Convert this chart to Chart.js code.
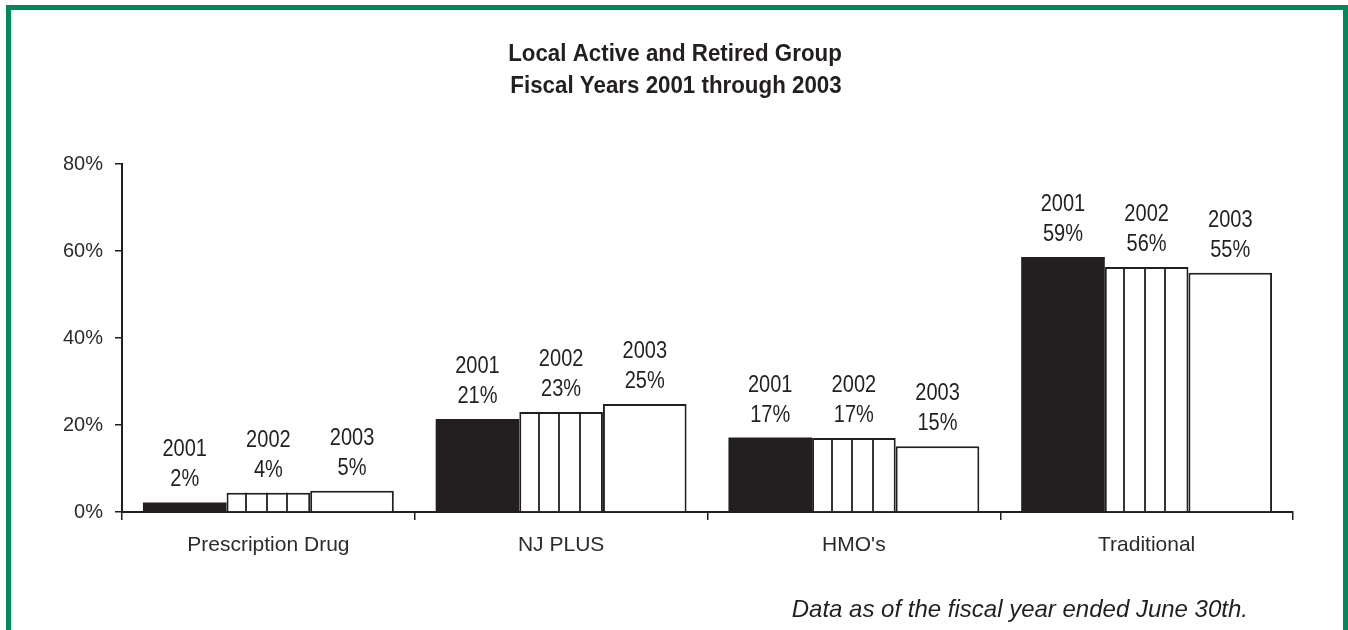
<!DOCTYPE html>
<html>
<head>
<meta charset="utf-8">
<script src="https://cdn.jsdelivr.net/npm/chart.js@4/dist/chart.umd.min.js"></script>
<style>
  html,body{margin:0;padding:0;background:#fff;}
  body{width:1348px;height:630px;position:relative;overflow:hidden;}
  #frame{position:absolute;left:6px;top:5px;width:1342px;height:700px;box-sizing:border-box;border:5px solid #00895a;border-bottom:none;}
  #c{position:absolute;left:0;top:0;}
</style>
</head>
<body>
<div id="frame"></div>
<canvas id="c" width="1348" height="630"></canvas>
<script>
const categories = ["Prescription Drug", "NJ PLUS", "HMO's", "Traditional"];
const years = ["2001", "2002", "2003"];
const values2001 = [2.2, 21.4, 17.1, 58.6];
const values2002 = [4.4, 23.0, 17.0, 56.3];
const values2003 = [4.9, 24.8, 15.1, 55.0];
const yTicks = [0, 20, 40, 60, 80];
const titleLines = ["Local Active and Retired Group", "Fiscal Years 2001 through 2003"];
const footnote = "Data as of the fiscal year ended June 30th.";

const INK = '#231f20';
const SANS = "'Liberation Sans', Arial, sans-serif";

function narrowText(ctx, text, x, y, sx) {
  ctx.save();
  ctx.translate(x, y);
  ctx.scale(sx, 1);
  ctx.fillText(text, 0, 0);
  ctx.restore();
}

const overlay = {
  id: 'overlay',
  afterDatasetsDraw(chart) {
    const ctx = chart.ctx;
    ctx.save();
    // vertical stripes inside 2002 bars
    ctx.strokeStyle = INK;
    ctx.lineWidth = 1.8;
    chart.getDatasetMeta(1).data.forEach(bar => {
      const p = bar.getProps(['x', 'y', 'base', 'width'], true);
      const left = p.x - p.width / 2;
      [0.235, 0.48, 0.725].forEach(f => {
        const lx = Math.round(left + p.width * f);
        ctx.beginPath();
        ctx.moveTo(lx, p.y);
        ctx.lineTo(lx, p.base);
        ctx.stroke();
      });
    });
    // value labels
    ctx.fillStyle = INK;
    ctx.textAlign = 'center';
    ctx.textBaseline = 'alphabetic';
    ctx.font = "23px " + SANS;
    chart.data.datasets.forEach((ds, i) => {
      chart.getDatasetMeta(i).data.forEach((bar, j) => {
        const p = bar.getProps(['x', 'y'], true);
        narrowText(ctx, years[i], p.x, p.y - 46, 0.87);
        narrowText(ctx, Math.round(ds.data[j]) + '%', p.x, p.y - 16, 0.87);
      });
    });
    ctx.restore();
  },
  afterDraw(chart) {
    const ctx = chart.ctx;
    ctx.save();
    ctx.fillStyle = INK;
    ctx.textAlign = 'center';
    ctx.textBaseline = 'alphabetic';
    ctx.font = "bold 24px " + SANS;
    narrowText(ctx, titleLines[0], 675, 61, 0.93);
    narrowText(ctx, titleLines[1], 676, 93, 0.93);
    ctx.textAlign = 'right';
    ctx.font = "italic 24px " + SANS;
    ctx.fillText(footnote, 1248, 617);
    ctx.restore();
  }
};

new Chart(document.getElementById('c'), {
  type: 'bar',
  data: {
    labels: categories,
    datasets: [
      { label: years[0], data: values2001, backgroundColor: INK, borderColor: INK, borderWidth: 0 },
      { label: years[1], data: values2002, backgroundColor: '#ffffff', borderColor: INK, borderWidth: 2 },
      { label: years[2], data: values2003, backgroundColor: '#ffffff', borderColor: INK, borderWidth: 2 }
    ]
  },
  options: {
    responsive: false,
    animation: false,
    events: [],
    layout: { padding: { top: 164, left: 0, right: 55, bottom: 68 } },
    datasets: { bar: { categoryPercentage: 0.857, barPercentage: 1.0 } },
    plugins: { legend: { display: false }, title: { display: false }, tooltip: { enabled: false } },
    scales: {
      x: {
        grid: { offset: true, drawOnChartArea: false, drawTicks: true, tickLength: 8, color: INK, lineWidth: 1.5 },
        border: { display: true, color: INK, width: 2 },
        ticks: { color: '#2b2b2b', font: { family: SANS, size: 21 }, padding: 13, maxRotation: 0 },
        afterFit(s) { s.height = 50; }
      },
      y: {
        min: 0, max: 80,
        afterBuildTicks(s) { s.ticks = yTicks.map(v => ({ value: v })); },
        grid: { drawOnChartArea: false, drawTicks: true, tickLength: 7, color: INK, lineWidth: 1.5 },
        border: { display: true, color: INK, width: 2 },
        ticks: { color: '#2b2b2b', font: { family: SANS, size: 20 }, padding: 12, callback: v => v + '%' },
        afterFit(s) { s.width = 122; }
      }
    }
  },
  plugins: [overlay]
});
</script>
</body>
</html>
